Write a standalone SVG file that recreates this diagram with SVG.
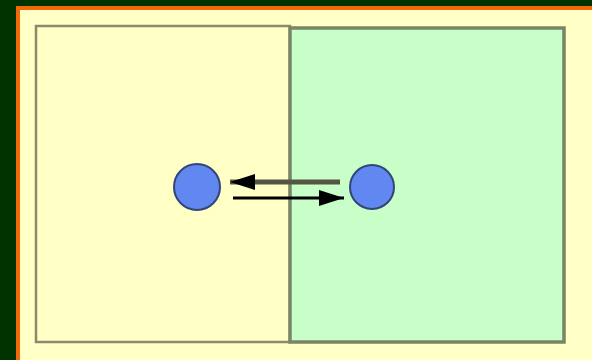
<svg xmlns="http://www.w3.org/2000/svg" width="592" height="360" viewBox="0 0 592 360">
<style>
.node circle{fill:#6088f0;stroke:#334477;stroke-width:2}
</style>
<defs>
<marker id="ah" viewBox="0 0 25 16" refX="25" refY="8" markerWidth="25" markerHeight="16" markerUnits="userSpaceOnUse" orient="auto">
<path d="M0,0 L25,8 L0,16 z" fill="#000"/>
</marker>
</defs>
<rect x="0" y="0" width="592" height="360" fill="#003300"/>
<rect x="18" y="8" width="576" height="360" fill="#ffffc6" stroke="#f06a0a" stroke-width="4"/>
<g id="left-region">
<rect x="36" y="26" width="254" height="316" fill="#ffffc6" stroke="#8a8a6a" stroke-width="2.5"/>
</g>
<g id="right-region">
<rect x="290" y="28" width="274" height="314" fill="#c8ffc8" stroke="#7a8466" stroke-width="3.5"/>
</g>
<g id="connectors">
<line x1="340" y1="182" x2="230" y2="182" stroke="#555544" stroke-width="5" marker-end="url(#ah)"/>
<line x1="233" y1="198" x2="344" y2="198" stroke="#000" stroke-width="3" marker-end="url(#ah)"/>
</g>
<g id="node-left" class="node"><circle cx="197" cy="187" r="23"/></g>
<g id="node-right" class="node"><circle cx="372" cy="187" r="22"/></g>
</svg>
